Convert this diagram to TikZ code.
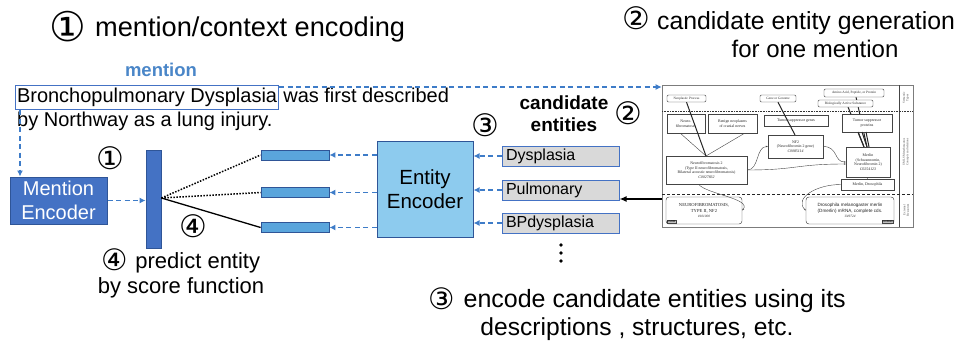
\documentclass[tikz,border=0pt]{standalone}
\usepackage{fontspec}
\setmainfont{Liberation Sans}
\newfontfamily\symf{DejaVu Sans}
\newfontfamily\figserif{Liberation Serif}
\usetikzlibrary{arrows.meta,calc}
\definecolor{dblue}{HTML}{4472C4}
\definecolor{dborder}{HTML}{2F5597}
\definecolor{lblue}{HTML}{5AA5DC}
\definecolor{eblue}{HTML}{8DCBEE}
\definecolor{arrblue}{HTML}{3E7CC8}
\definecolor{cgray}{HTML}{D9D9D9}
\definecolor{mblue}{HTML}{4A86C8}
\definecolor{figline}{HTML}{444444}
\newcommand{\fsz}[2]{\fontsize{#1}{#2}\selectfont}
\newcommand{\bignum}[1]{\raisebox{-2.5pt}[0pt][0pt]{\symf\fsz{29.5}{24}#1}}
\begin{document}
\begin{tikzpicture}[x=1pt,y=-1pt,
  menc/.style={draw=dborder, line width=1pt, fill=dblue, text=white, font=\fsz{20}{24}, align=center, minimum width=97pt, minimum height=47pt, inner sep=0pt},
  vbar/.style={draw=dborder, line width=0.8pt, fill=dblue, minimum width=15pt, minimum height=98pt, inner sep=0pt},
  sbar/.style={draw=dborder, line width=0.8pt, fill=lblue, minimum width=68pt, minimum height=10pt, inner sep=0pt},
  eenc/.style={draw=dborder, line width=1pt, fill=eblue, font=\fsz{20.5}{24}, align=center, minimum width=96pt, minimum height=96pt, inner sep=0pt},
  cand/.style={draw=dblue, line width=1pt, fill=cgray, font=\fsz{16}{18}, text width=109pt, inner xsep=4pt, inner ysep=0pt, minimum height=20pt, align=left},
  darr/.style={draw=arrblue, line width=1.6pt, dash pattern=on 5pt off 3.5pt, -{Latex[length=6pt,width=6pt]}},
  barr/.style={draw=black, line width=1.4pt, -{Latex[length=7pt,width=6pt]}},
  num/.style={font=\symf\fsz{31}{32}, inner sep=0pt, text height=22.8pt, text depth=1.5pt},
  txt/.style={inner sep=0pt},
  fb/.style={draw=figline, line width=0.45pt, fill=white, font=\figserif\fsz{3.9}{4.5}, align=center, inner sep=0pt, text=black!85},
  fr/.style={fb, rounded corners=1.2pt, font=\figserif\fsz{3.4}{4}},
  fbig/.style={fb, rounded corners=3pt, font=\figserif\fsz{4.6}{5.4}},
  ftag/.style={draw=figline, line width=0.3pt, fill=black!25, font=\figserif\fsz{2.8}{3}, inner sep=0.4pt},
  fl/.style={draw=figline, line width=0.4pt},
  fthick/.style={draw=black!85, line width=1pt},
  fside/.style={font=\figserif\fsz{3}{3.5}, align=center, rotate=90, inner sep=0pt, text=black!75}
]
\useasboundingbox (0,0) rectangle (963,353);

% titles
\node[num, font=\symf\fsz{41}{42}, text height=30.2pt, text depth=2pt] (t1n) at (67.5,27.5) {①};
\node[txt, anchor=base west, font=\fsz{27.2}{30}] (t1) at (95,37) {mention/context encoding};
\node[num] (t2n) at (636.5,18.5) {②};
\node[txt, anchor=base west, font=\fsz{24.8}{28}] (t2a) at (657,30) {candidate entity generation};
\node[txt, anchor=base, font=\fsz{24}{28}] (t2b) at (815,57) {for one mention};

% mention sentence
\node[txt, font=\bfseries\fsz{18.5}{20}, text=mblue] (mlab) at (161,70) {mention};
\node[draw=dblue, line width=1pt, inner xsep=1.5pt, inner ysep=0pt, minimum height=24pt, font=\fsz{20}{24}, anchor=north west] (mbox) at (15,85) {Bronchopulmonary Dysplasia};
\node[txt, font=\fsz{20}{24}, anchor=base west] (l1) at ([xshift=4pt]mbox.base east) {was first described};
\node[txt, font=\fsz{20}{24}, anchor=base west] (l2) at (17,126) {by Northway as a lung injury.};

% left side
\node[menc] (me) at (58.5,200.5) {Mention\\Encoder};
\node[vbar] (vb) at (153.5,199) {};
\node[num] (n1) at (110.5,158.5) {①};
\node[num] (n4a) at (193.5,226.5) {④};
\node[txt, anchor=base, font=\fsz{22}{25}, align=center] (pred) at (181,293) {\bignum{④}\hspace{1pt} predict entity\\by score function};

\node[sbar] (b1) at (295,155) {};
\node[sbar] (b2) at (295,192.5) {};
\node[sbar] (b3) at (295,227.5) {};

\node[eenc] (ee) at (425,189) {Entity\\Encoder};
\node[num] (n3a) at (485,126) {③};
\node[txt, font=\bfseries\fsz{19}{22}, align=center] (cent) at (564,114) {candidate\\entities};
\node[num] (n2a) at (628.5,114) {②};

\node[cand] (c1) at (560.5,156) {Dysplasia};
\node[cand] (c2) at (560.5,190) {Pulmonary};
\node[cand] (c3) at (560.5,223) {BPdysplasia};

\fill (561,245) circle (1.8pt);
\fill (561,253) circle (1.8pt);
\fill (561,261) circle (1.8pt);

\node[txt, anchor=base, font=\fsz{25}{28}, align=center] (bot) at (637,335) {\bignum{③}\hspace{2pt} encode candidate entities using its\\{\fsz{24.6}{28}descriptions , structures, etc.}};

% right figure
\node[draw=figline!70, line width=0.6pt, fill=white, minimum width=251pt, minimum height=142pt, inner sep=0pt] (fig) at (787.5,156) {};
\draw[figline, line width=0.45pt] (899,85) -- (899,227);
\draw[black!80, line width=0.55pt, dash pattern=on 0.8pt off 0.8pt] (662,111) -- (913,111);
\draw[black!85, line width=1pt, dash pattern=on 3pt off 2pt] (662,194) -- (913,194);

% semantic-type connectors (drawn first)
\draw[fl] (680,133) -- (706,156);
\draw[fl] (745,133) -- (706,156);
\draw[fthick] (848,107) -- (864,147);
\draw[fthick] (856,97) -- (867,147);

\node[fr, minimum width=39pt, minimum height=7pt] (np) at (686.5,98.5) {Neoplastic Process};
\node[fr, minimum width=36pt, minimum height=7pt] (gg) at (778,98.5) {Gene or Genome};
\node[fr, minimum width=60pt, minimum height=8pt] (aa) at (854,93) {Amino Acid, Peptide, or Protein};
\node[fr, minimum width=55pt, minimum height=7pt] (ba) at (845.5,103.5) {Biologically Active Substance};

\node[fb, minimum width=38pt, minimum height=19pt] (nf) at (686,123.5) {Neuro-\\fibromatoses};
\node[fb, minimum width=49pt, minimum height=19pt] (bn) at (732.5,123.5) {Benign neoplasms\\of cranial nerves};
\node[fb, minimum width=64pt, minimum height=11pt] (tg) at (796,120.5) {Tumor suppressor genes};
\node[fb, minimum width=50pt, minimum height=18pt] (tp) at (867,123) {Tumor suppressor\\proteins};

\draw[fthick] (np.south) -- (706,156);
\draw[fthick] (gg.south) -- (795,135);
\draw[fthick] (858,132) -- (864,147);
\draw[fthick] (862,132) -- (867,147);
\draw[fthick] (866,132) -- (869,147);

\node[fb, minimum width=55pt, minimum height=23pt] (nf2) at (795.5,146.5) {NF2\\(Neurofibromin 2 gene)\\\textit{C0085114}};
\node[fb, minimum width=81pt, minimum height=28pt] (n2) at (706.5,170) {Neurofibromatosis 2\\(Type II neurofibromatosis,\\Bilateral acoustic neurofibromatosis)\\\textit{C0027832}};
\node[fb, minimum width=44pt, minimum height=30pt] (mer) at (868,162) {Merlin\\(Schwannomin,\\Neurofibromin 2)\\\textit{C0254123}};
\node[fb, minimum width=53pt, minimum height=11pt] (md) at (867.5,184.5) {Merlin, Drosophila};
\node[fbig, minimum width=76pt, minimum height=27pt] (om) at (704,210.5) {NEUROFIBROMATOSIS,\\TYPE II, NF2\\{\fsz{3.4}{4}\textit{\#101000}}};
\node[fbig, minimum width=88pt, minimum height=27pt, font=\fsz{4.6}{5.4}] (dm) at (850,210.5) {Drosophila melanogaster merlin\\(Dmerlin) mRNA, complete cds.\\{\figserif\fsz{3.4}{4}\textit{U49724}}};
\node[ftag, anchor=south west] (omt) at ([xshift=1pt,yshift=1pt]om.south west) {OMIM};
\node[ftag, anchor=south east] (gbt) at ([xshift=-1pt,yshift=1pt]dm.south east) {GenBank};

\node[fside] (s1) at (906,98) {Semantic\\Types};
\node[fside] (s2) at (906,152) {UMLS Metathesaurus\\Concepts and relations};
\node[fside] (s3) at (906,210) {External\\Resources};

\draw[fl, -{Stealth[length=2pt,width=1.6pt]}] (n2.east) .. controls +(12,0) and +(-12,0) .. (nf2.west);
\draw[fl, -{Stealth[length=2pt,width=1.6pt]}] (n2.east) .. controls +(50,0) and +(-50,0) .. ([yshift=-2pt]mer.west);
\draw[fl, -{Stealth[length=2pt,width=1.6pt]}] (nf2.east) .. controls +(15,0) and +(-12,0) .. (mer.west);
\draw[fl] (mer.south) -- (md.north);
\draw[fl, -{Stealth[length=2pt,width=1.6pt]}] ([xshift=-8pt]n2.south) .. controls +(8,10) and +(10,-12) .. (om.east);
\draw[fl, -{Stealth[length=2pt,width=1.6pt]}] (md.west) .. controls +(-25,0) and +(-12,-12) .. (dm.west);

% main connectors
\draw[darr] ([yshift=-2pt]mbox.north east) -- ([yshift=-2pt]mbox.north east -| fig.west);
\draw[darr] ([xshift=5pt]mbox.south west) -- ([xshift=5pt]mbox.south west |- me.north);
\draw[darr] (me.east) -- (me.east -| vb.west);
\draw[darr] (ee.west |- b1.east) -- (b1.east);
\draw[darr] (ee.west |- b2.east) -- (b2.east);
\draw[darr] (ee.west |- b3.east) -- (b3.east);
\draw[darr] (c1.west) -- (c1.west -| ee.east);
\draw[darr] (c2.west) -- (c2.west -| ee.east);
\draw[darr] (c3.west) -- (c3.west -| ee.east);
\draw[barr] ([yshift=-9pt]c2.east -| fig.west) -- ([yshift=-9pt]c2.east);

\coordinate (sc) at ([yshift=1pt]vb.east);
\draw[line width=1.5pt, dash pattern=on 1.5pt off 1.5pt] (sc) -- (b1.west);
\draw[line width=1.5pt, dash pattern=on 1.5pt off 1.5pt] (sc) -- (b2.west);
\draw[line width=1.3pt] (sc) -- (b3.west);
\end{tikzpicture}
\end{document}
